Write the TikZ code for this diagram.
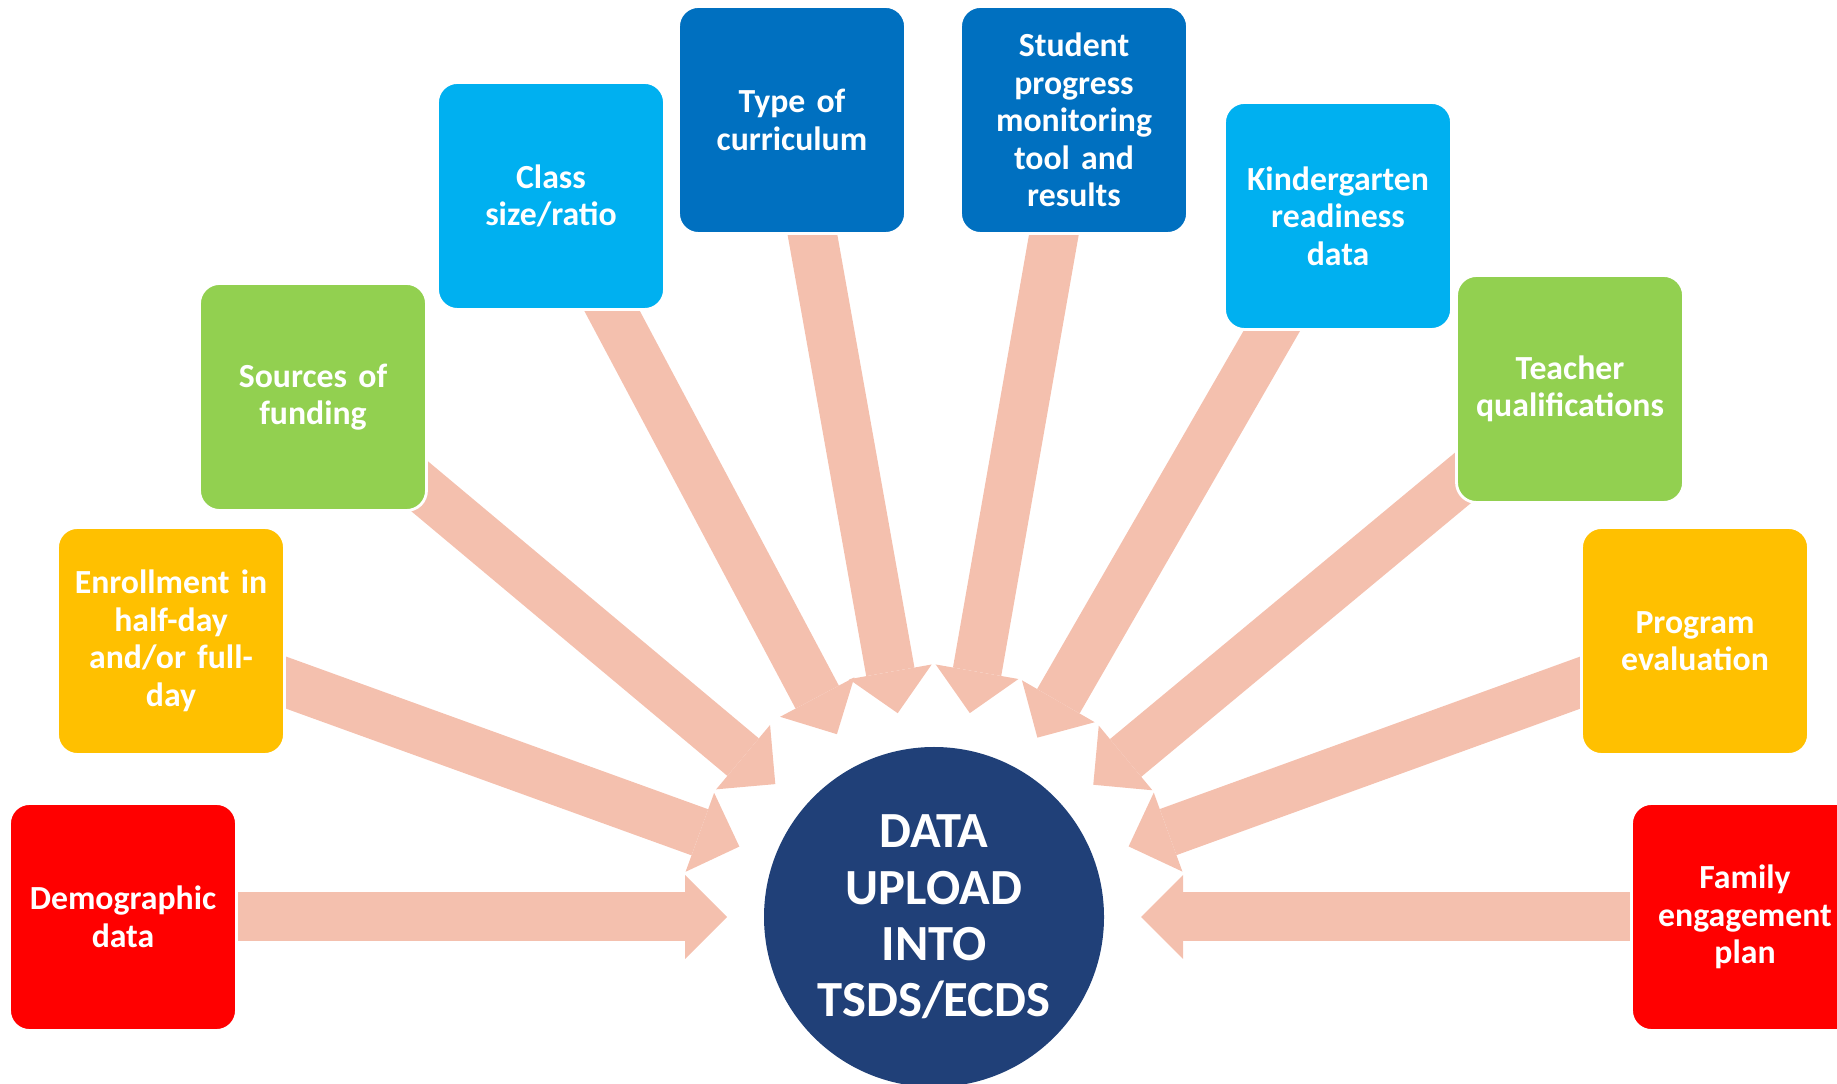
\documentclass[tikz,border=0pt]{standalone}
\usepackage{fontspec}
\setmainfont{Carlito}
\usetikzlibrary{arrows.meta,calc}
\definecolor{feedpink}{RGB}{244,192,174}
\definecolor{hubblue}{RGB}{32,64,120}
\definecolor{boxred}{RGB}{255,0,0}
\definecolor{boxgold}{RGB}{255,192,0}
\definecolor{boxgreen}{RGB}{146,208,80}
\definecolor{boxsky}{RGB}{0,176,240}
\definecolor{boxblue}{RGB}{0,112,192}
\pgfdeclarelayer{back}
\pgfsetlayers{back,main}
\tikzset{
  databox/.style={draw=white, line width=0.8pt, rounded corners=0.2cm,
    minimum width=2.27cm, minimum height=2.27cm, text width=2.1cm,
    align=center, inner sep=0pt, text=white,
    font=\fontsize{9.6}{10.7}\selectfont\bfseries},
  hub/.style={circle, fill=hubblue, minimum size=3.4cm, inner sep=0pt,
    text=white, align=center, font=\fontsize{14.4}{16}\selectfont\bfseries},
  feed/.style={draw=feedpink, line width=0.49cm,
    -{Triangle[width=0.84cm,length=0.42cm,line width=0pt]}}
}
\newcommand{\infobox}[4]{\node[databox,fill=#2] (#1) at (#3) {#4};}

\begin{document}
\begin{tikzpicture}
  \useasboundingbox (0,0) rectangle (18.37,10.83);
  \clip (0,0) rectangle (18.37,10.83);
  \node[hub] (hub) at (9.34,1.66) {DATA\\UPLOAD\\INTO\\TSDS/ECDS};
  \infobox{demog}{boxred}{1.23,1.66}{Demographic\\data}
  \infobox{enroll}{boxgold}{1.71,4.42}{Enrollment in\\half-day\\and/or full-\\day}
  \infobox{funding}{boxgreen}{3.13,6.86}{Sources of\\funding}
  \infobox{classsize}{boxsky}{5.51,8.87}{Class\\size/ratio}
  \infobox{curric}{boxblue}{7.92,9.63}{Type of\\curriculum}
  \infobox{progress}{boxblue}{10.74,9.63}{Student\\progress\\monitoring\\tool and\\results}
  \infobox{kready}{boxsky}{13.38,8.67}{Kindergarten\\readiness\\data}
  \infobox{teacher}{boxgreen}{15.70,6.94}{Teacher\\qualifications}
  \infobox{progeval}{boxgold}{16.95,4.42}{Program\\evaluation}
  \infobox{family}{boxred}{17.45,1.66}{Family\\engagement\\plan}
  \begin{pgfonlayer}{back}
    \foreach \b in {demog,enroll,funding,classsize,curric,progress,kready,teacher,progeval,family}{
      \draw[feed] (\b.center) -- ($(hub)!2.07cm!(\b)$);}
  \end{pgfonlayer}
\end{tikzpicture}
\end{document}
